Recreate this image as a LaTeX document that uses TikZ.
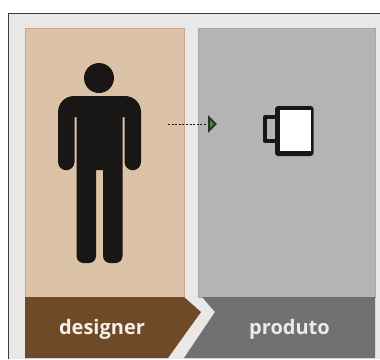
\documentclass[tikz,border=0pt]{standalone}
\usepackage{fontspec}
\setmainfont{Open Sans}
\usepackage{tikz}
\usetikzlibrary{positioning}
\definecolor{moldura}{HTML}{E9E8E6}
\definecolor{bege}{HTML}{DCC3A7}
\definecolor{begeborda}{HTML}{C4A78D}
\definecolor{marrom}{HTML}{6F4A28}
\definecolor{cinza}{HTML}{B4B4B4}
\definecolor{cinzaborda}{HTML}{A6A6A6}
\definecolor{cinzaescuro}{HTML}{717171}
\definecolor{preto}{HTML}{191716}
\definecolor{verde}{HTML}{3F8A3F}
\tikzset{
	rotulo/.style={font=\bfseries\fontsize{20}{22}\selectfont, inner sep=0pt},
	figura/.style={fill=preto, draw=none},
}

\begin{document}
\begin{tikzpicture}[x=1pt,y=-1pt]
			\useasboundingbox (0,0) rectangle (380,359);
			\fill[white] (0,0) rectangle (380,359);
			\fill[moldura] (8,13) rectangle (380,359);
			\draw[preto!85, line width=0.9pt] (8.5,359) -- (8.5,13.5) -- (380,13.5);
			% paineis
			\fill[bege, draw=begeborda, line width=0.8pt] (25.5,28) rectangle (184,297);
			\fill[cinza, draw=cinzaborda, line width=0.6pt] (198,28) rectangle (375,297);
			\fill[marrom] (25,297) -- (184,297) -- (201,312) -- (168,358) -- (25,358) -- cycle;
			\fill[cinzaescuro] (202,297) -- (375,297) -- (375,358) -- (184,358) -- (215,312) -- cycle;
			\node[rotulo, text=bege!25!white] (designer) at (102,329) {designer};
			\node[rotulo, text=white!92!black] (produto) at (289.5,329) {produto};
			% boneco
			\fill[figura] (99,78) circle (15);
			\fill[figura] (58,162) -- (58,112) arc (180:270:16) -- (125,96) arc (270:360:16) -- (141,162)
				arc (0:180:8.25) -- (124.5,117) -- (122.5,117) -- (122.5,256) arc (0:90:7) -- (110,263)
				arc (90:180:7) -- (103,170) -- (96,170) -- (96,256) arc (0:90:7) -- (83.5,263)
				arc (90:180:7) -- (76.5,117) -- (74.5,117) -- (74.5,162) arc (0:180:8.25) -- cycle;
			% caneca
			\draw[preto, line width=4pt, line join=round] (275,117) -- (265,117) -- (265,140.5) -- (275,140.5);
			\fill[preto, rounded corners=3pt] (275,106) rectangle (313.5,156);
			\fill[white] (279.5,110) rectangle (310.5,151);
			% seta
			\coordinate (inicio) at (168,124);
			\coordinate (ponta) at (208,124);
			\draw[preto, dash pattern=on 2pt off 1.6pt, line width=0.9pt] (inicio) -- (ponta);
			\fill[verde, draw=preto!90, line width=1.9pt, line join=miter] (209,117.5) -- (215.5,124) -- (209,130.5) -- cycle;
		\end{tikzpicture}
\end{document}
